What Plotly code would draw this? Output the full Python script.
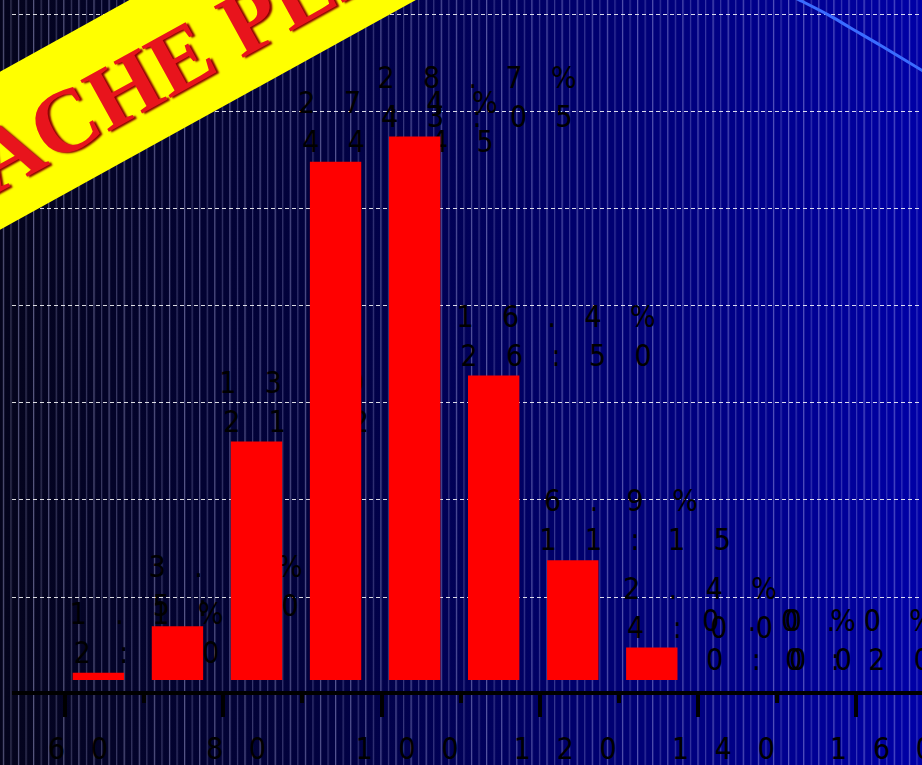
import base64
import plotly.graph_objects as go

# ---------------- data ----------------
bin_centers = [65, 75, 85, 95, 105, 115, 125, 135, 145, 155]
percent = [1.1, 3.5, 13.0, 27.4, 28.7, 16.4, 6.9, 2.4, 0.0, 0.0]
percent_labels = ["1.1%", "3.5%", "13.0%", "27.4%", "28.7%", "16.4%", "6.9%", "2.4%", "0.0%", "0.0%"]
second_labels = ["2:10", "5:30", "21:20", "44:45", "43:05", "26:50", "11:15", "4:00", "0:00", "0:20"]
tick_values = [60, 80, 100, 120, 140, 160]
tick_labels = ["60", "80", "100", "120", "140", "160"]
curve_x = [150.0, 153.0, 156.8, 159.3, 163.1, 168.4, 170.0]
curve_y = [36.3, 35.7, 34.9, 34.3, 33.4, 32.1, 31.7]

# ---------------- layout constants ----------------
W, H = 922, 765
ML, MR, MT, MB = 12, 0, 0, 72
X_RANGE = [53.26, 168.37]
Y_RANGE = [0.73, 35.73]
Y_DOMAIN_BOTTOM = 13 / (H - MT - MB)
FONT = "DejaVu Sans Condensed, Liberation Sans Narrow, sans-serif"
NB = "\u00a0"
HAIR = "\u200a"


def spaced(s, sep, extra=""):
    return extra + sep * (len(s) - 1) + sep.join(s)


BAR_SEP = NB * 3 + HAIR
TICK_SEP = NB * 3
bar_text = [spaced(a, BAR_SEP, NB + HAIR) + "<br>" + spaced(b, BAR_SEP, NB + HAIR)
            for a, b in zip(percent_labels, second_labels)]
bar_base = [Y_RANGE[0] if v == 0 else 0 for v in percent]

# background svg (gradient + fine vertical lines)
svg = f'''<svg xmlns="http://www.w3.org/2000/svg" width="{W}" height="{H}" viewBox="0 0 {W} {H}" preserveAspectRatio="none">
<defs>
<linearGradient id="g" x1="0" y1="0" x2="1" y2="0">
<stop offset="0" stop-color="#04041c"/>
<stop offset="0.35" stop-color="#01013f"/>
<stop offset="0.6" stop-color="#000068"/>
<stop offset="1" stop-color="#0000a6"/>
</linearGradient>
<pattern id="p" x="0" y="0" width="15.1" height="20" patternUnits="userSpaceOnUse">
<rect x="3" y="0" width="1" height="20" fill="#c8c8ff" fill-opacity="0.5"/>
<rect x="10.55" y="0" width="1" height="20" fill="#c8c8ff" fill-opacity="0.33"/>
</pattern>
</defs>
<rect width="{W}" height="{H}" fill="url(#g)"/>
<rect width="{W}" height="{H}" fill="url(#p)"/>
</svg>'''
bg_uri = "data:image/svg+xml;base64," + base64.b64encode(svg.encode()).decode()

PW, PH = W - ML - MR, H - MT - MB


def px(x, y):
    return (x - ML) / PW, (H - MB - y) / PH


band_pts = [px(-60, 105), px(400, -150), px(700, -157), px(-60, 263)]
band_path = "M " + " L ".join(f"{a:.4f},{b:.4f}" for a, b in band_pts) + " Z"
ann_x, ann_y = px(184, 56)

fig = go.Figure()
fig.add_trace(go.Bar(
    x=bin_centers, y=percent, base=bar_base,
    width=6.5, offset=-4.06,
    marker=dict(color="#ff0000", line=dict(width=0)),
    text=bar_text, textposition="outside", textangle=0,
    constraintext="none", cliponaxis=True,
    textfont=dict(family=FONT, size=30, color="black"),
    hoverinfo="skip", showlegend=False,
))
fig.add_trace(go.Scatter(
    x=curve_x, y=curve_y, mode="lines",
    line=dict(color="#3a6cff", width=3, shape="spline"),
    hoverinfo="skip", showlegend=False,
))

fig.update_layout(
    width=W, height=H,
    margin=dict(l=ML, r=MR, t=MT, b=MB, pad=0, autoexpand=False),
    paper_bgcolor="#020230", plot_bgcolor="rgba(0,0,0,0)",
    showlegend=False,
    xaxis=dict(
        range=X_RANGE, anchor="free", position=0,
        showgrid=False, zeroline=False,
        showline=True, linecolor="black", linewidth=4,
        ticks="outside", ticklen=22, tickwidth=3.5, tickcolor="black",
        tickmode="array", tickvals=tick_values,
        ticktext=[spaced(t, TICK_SEP) for t in tick_labels], tickangle=0,
        ticklabelstandoff=6, ticklabeloverflow="allow",
        tickfont=dict(family=FONT, size=30, color="black"),
        minor=dict(dtick=10, tick0=0, ticks="outside", ticklen=8, tickwidth=3.5,
                   tickcolor="black", showgrid=False),
        automargin=False, fixedrange=True,
    ),
    yaxis=dict(
        range=Y_RANGE, domain=[Y_DOMAIN_BOTTOM, 1],
        showticklabels=False, ticks="", showline=False, zeroline=False,
        showgrid=True, tick0=0, dtick=5,
        gridcolor="rgba(255,255,255,0.85)", gridwidth=1, griddash="4px,3px",
        automargin=False, fixedrange=True,
    ),
    images=[dict(
        source=bg_uri, xref="paper", yref="paper",
        x=-ML / PW, y=1 + MT / PH, sizex=W / PW, sizey=H / PH,
        xanchor="left", yanchor="top", sizing="stretch", layer="below",
    )],
    shapes=[dict(
        type="path", path=band_path, xref="paper", yref="paper",
        fillcolor="#ffff00", line=dict(width=0), layer="above",
    )],
    annotations=[dict(
        text="CACHE PEAK", x=ann_x, y=ann_y, xref="paper", yref="paper",
        showarrow=False, textangle=-28.9, xanchor="center", yanchor="middle",
        font=dict(family="Liberation Serif, Times New Roman, serif", size=90,
                  color="#e8141c", weight="bold",
                  shadow="2px 2px 2px #8a0000"),
    )],
)

fig.write_html(
    "out.html",
    config={"displayModeBar": False},
    post_script="document.body.style.margin='0';document.body.style.overflow='hidden';",
)
